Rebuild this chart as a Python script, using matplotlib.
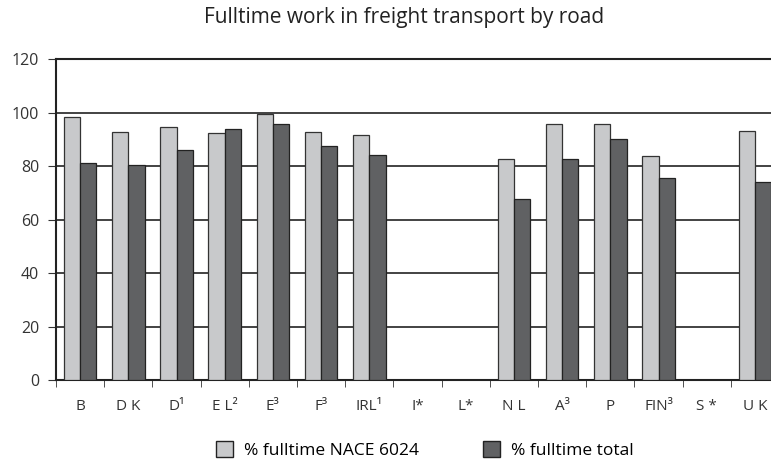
import numpy as np
import matplotlib.pyplot as plt
from matplotlib.patches import Patch

plt.rcParams['font.family'] = ['Open Sans', 'DejaVu Sans']

countries = ['B', 'D K', 'D¹', 'E L²', 'E³', 'F³', 'IRL¹', 'I*', 'L*',
             'N L', 'A³', 'P', 'FIN³', 'S *', 'U K']
nace_6024 = [98.4, 92.8, 94.5, 92.2, 99.3, 92.8, 91.5, np.nan, np.nan,
             82.5, 95.8, 95.8, 83.9, np.nan, 92.9]
total = [81.0, 80.4, 86.0, 93.7, 95.8, 87.3, 84.0, np.nan, np.nan,
         67.8, 82.5, 90.2, 75.4, np.nan, 74.0]

light = '#c8c9cb'
dark = '#606163'

fig = plt.figure(figsize=(7.71, 4.61), dpi=100)
# axes run slightly past the right edge, as in the source
ax = fig.add_axes([56 / 771, 1 - 380 / 461, 723 / 771, 321 / 461])

x = np.arange(len(countries))
w = 0.34
ax.bar(x - w / 2, nace_6024, w, color=light, edgecolor='#333333', linewidth=0.9, zorder=3)
ax.bar(x + w / 2, total, w, color=dark, edgecolor='#222222', linewidth=0.9, zorder=3)

ax.set_xlim(-0.5, len(countries) - 0.5)
ax.set_ylim(0, 120)
ax.set_yticks(range(0, 121, 20))
ax.set_yticklabels(['0', '20', '40', '60', '80', '100', '120'], fontsize=11.5, color='#333333')
ax.yaxis.grid(True, color='#222222', linewidth=1.2, zorder=0)
ax.set_xticks(x)
ax.set_xticklabels(countries, fontsize=11, color='#333333')
ax.set_xticks(np.arange(-0.5, len(countries), 1), minor=True)
ax.tick_params(axis='x', which='major', length=0, pad=14)
ax.tick_params(axis='x', which='minor', length=5, direction='out', color='#333333')
ax.tick_params(axis='y', length=6, color='#333333', pad=6)
for s in ['left', 'bottom', 'top']:
    ax.spines[s].set_color('#222222')
    ax.spines[s].set_linewidth(1.5)
ax.spines['right'].set_visible(False)

fig.text(0.524, 0.961, 'Fulltime work in freight transport by road', ha='center',
         va='center', fontsize=15, color='#222222')

handles = [Patch(facecolor=light, edgecolor='#222222'), Patch(facecolor=dark, edgecolor='#222222')]
fig.legend(handles, ['% fulltime NACE 6024', '% fulltime total'], loc='center',
           bbox_to_anchor=(0.551, 0.024), ncol=2, frameon=False, fontsize=12.5,
           columnspacing=3.7, handlelength=1.0, handleheight=1.1, handletextpad=0.6)

fig.savefig('out.png', dpi=100)
